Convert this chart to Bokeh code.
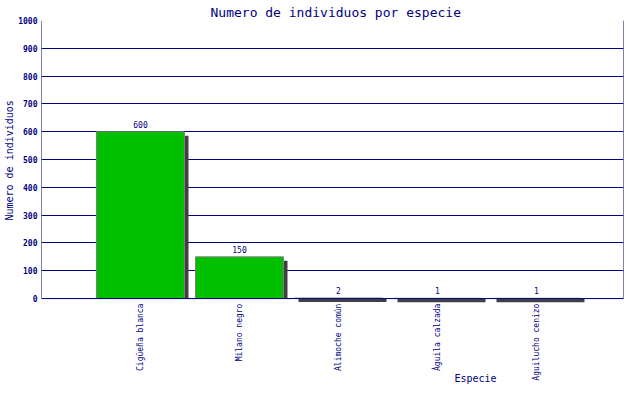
from bokeh.plotting import figure
from bokeh.models import ColumnDataSource, Range1d, FixedTicker
from bokeh.core.properties import value
from bokeh.embed import file_html
from bokeh.resources import INLINE
from math import pi

# data
especies = ["Cigüeña blanca", "Milano negro", "Alimoche común", "Águila calzada", "Aguilucho cenizo"]
individuos = [600, 150, 2, 1, 1]
y_ticks = [0, 100, 200, 300, 400, 500, 600, 700, 800, 900, 1000]
x_title = "Especie"
y_title = "Numero de individuos"
titulo = "Numero de individuos por especie"

NAVY = "#000080"
FONT = "DejaVu Sans Mono"

positions = list(range(1, len(especies) + 1))
x_end = 5.879    # frame right edge (reference frame is cut a bit to fit the window)
bar_w = 0.889
dx = 0.0404      # 4px shadow offset along x
dy = 14.4        # 4px shadow offset along y
y_bottom = -309  # frame runs down to the canvas bottom so labels can be drawn inside it

source = ColumnDataSource(data={
    "x": positions,
    "left": [x - bar_w / 2 for x in positions],
    "right": [x + bar_w / 2 for x in positions],
    "s_left": [x - bar_w / 2 + dx for x in positions],
    "s_right": [x + bar_w / 2 + dx for x in positions],
    "top": individuos,
    "s_top": [v - dy for v in individuos],
    "label": [str(v) for v in individuos],
    "name": especies,
    "zero": [0] * len(especies),
})

p = figure(width=624, height=384, output_backend="svg", toolbar_location=None,
           x_range=Range1d(0, x_end), y_range=Range1d(y_bottom, 1000),
           title=titulo,
           min_border_left=41, min_border_right=1, min_border_top=20, min_border_bottom=0)

p.title.text_font = FONT
p.title.text_font_size = "13px"
p.title.text_font_style = "normal"
p.title.text_color = NAVY
p.title.align = "left"
p.title.offset = 169
p.title.standoff = 2

p.outline_line_color = None
p.xgrid.grid_line_color = None
p.ygrid.ticker = FixedTicker(ticks=y_ticks)
p.ygrid.grid_line_color = NAVY
p.ygrid.grid_line_width = 1

# y axis
p.yaxis.ticker = FixedTicker(ticks=y_ticks)
p.yaxis.axis_line_color = None
p.yaxis.major_tick_line_color = None
p.yaxis.minor_tick_line_color = None
p.yaxis.major_tick_out = 0
p.yaxis.major_tick_in = 0
p.yaxis.minor_tick_out = 0
p.yaxis.major_label_text_font = FONT
p.yaxis.major_label_text_font_size = "8px"
p.yaxis.major_label_text_font_style = "bold"
p.yaxis.major_label_text_color = NAVY
p.yaxis.major_label_standoff = 4
# leading no-break spaces lift the label to the middle of the 0..1000 area
p.yaxis.axis_label = "\u00a0" * 14 + y_title
p.yaxis.axis_label_text_font = FONT
p.yaxis.axis_label_text_font_size = "10px"
p.yaxis.axis_label_text_font_style = "normal"
p.yaxis.axis_label_text_color = NAVY
p.yaxis.axis_label_standoff = 0

p.xaxis.visible = False

# shadows then bars
p.quad(left="s_left", right="s_right", bottom=0, top="s_top", source=source,
       fill_color="#404040", line_color=None)
p.quad(left="left", right="right", bottom=0, top="top", source=source,
       fill_color="#00c000", line_color="#808080", line_width=1)

# frame lines: baseline, left and right borders
p.segment(x0=[0, 0, x_end], y0=[0, 0, 0], x1=[x_end, 0, x_end], y1=[0, 1000, 1000],
          line_color=NAVY, line_width=1)

# value labels
p.text(x="x", y="top", text="label", source=source, y_offset=-4,
       text_align="center", text_baseline="bottom", text_font=value(FONT),
       text_font_size="8px", text_color=NAVY)

# category labels, vertical
p.text(x="x", y="zero", text="name", source=source, y_offset=5, angle=pi / 2,
       text_align="right", text_baseline="middle", text_font=value(FONT),
       text_font_size="8px", text_color=NAVY)

# x axis title
p.text(x=[4.384], y=[y_bottom], text=[x_title], y_offset=-1,
       text_align="center", text_baseline="bottom", text_font=value(FONT),
       text_font_size="10px", text_color=NAVY)

open("out.html", "w").write(file_html(p, INLINE))
